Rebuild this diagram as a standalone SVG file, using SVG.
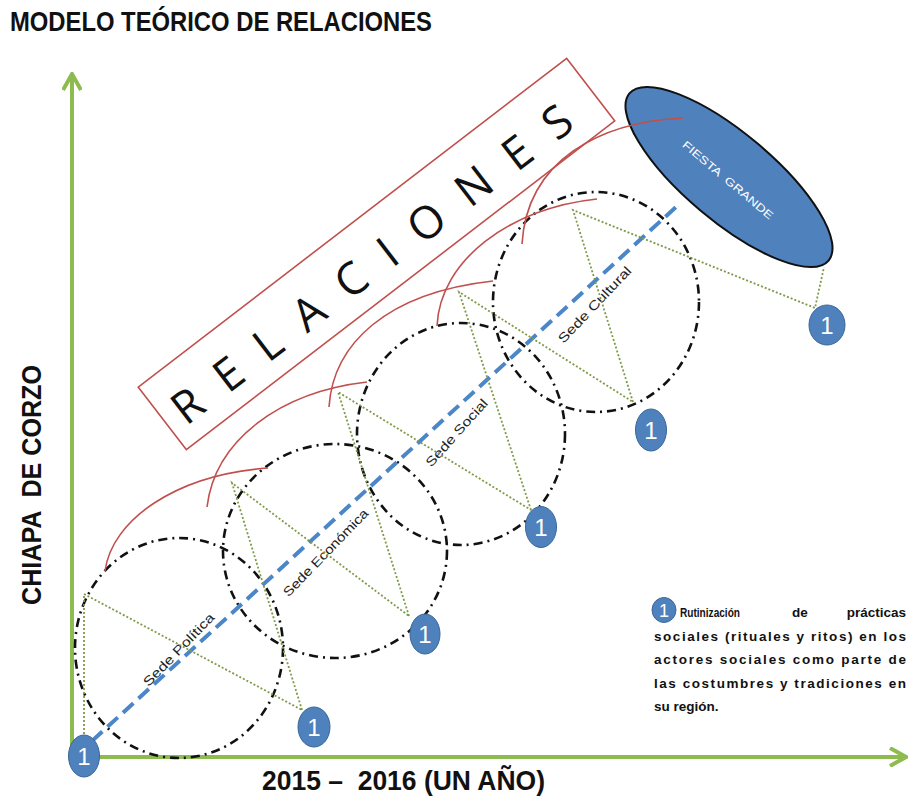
<svg xmlns="http://www.w3.org/2000/svg" width="910" height="797" viewBox="0 0 910 797">
<defs>
<style>
.axis{stroke:#8DBB4F;stroke-width:4;fill:none}
.sede{fill:none;stroke:#111;stroke-width:2.6;stroke-dasharray:9 5 2 5}
.tri{fill:none;stroke:#7F9A48;stroke-width:1.8;stroke-dasharray:2 2}
.arc{fill:none;stroke:#C0504D;stroke-width:1.6}
.blue{stroke:#4A86C8;stroke-width:4;stroke-dasharray:14 7;fill:none}
.badge{fill:#4F81BD;stroke:#3A6898;stroke-width:1}
.one{fill:#fff;font-family:"Liberation Sans",Arial,sans-serif;font-size:24px;text-anchor:middle}
.big{font-family:"Liberation Sans",Arial,sans-serif;font-weight:bold;font-size:28px;fill:#111}
.slabel{font-family:"Liberation Sans",Arial,sans-serif;font-size:13px;fill:#222;text-anchor:middle}
.leg{font-family:"Liberation Sans",Arial,sans-serif;font-weight:bold;font-size:13.5px;fill:#111}
</style>
<marker id="ah" viewBox="0 0 20 20" refX="18" refY="10" markerWidth="20" markerHeight="20" markerUnits="userSpaceOnUse" orient="auto">
<path d="M2,1 L18,10 L2,19" fill="none" stroke="#8DBB4F" stroke-width="4"/>
</marker>
</defs>
<rect width="910" height="797" fill="#fff"/>

<text class="big" x="10" y="31" textLength="422" lengthAdjust="spacingAndGlyphs">MODELO TEÓRICO DE RELACIONES</text>
<text class="big" xml:space="preserve" transform="translate(41,485) rotate(-90)" x="0" y="0" text-anchor="middle" textLength="240" lengthAdjust="spacingAndGlyphs">CHIAPA  DE CORZO</text>
<text class="big" xml:space="preserve" x="262" y="790" textLength="283" lengthAdjust="spacingAndGlyphs">2015 –  2016 (UN AÑO)</text>

<g id="axes">
<path class="axis" d="M72,757 L72,74" marker-end="url(#ah)"/>
<path class="axis" d="M72,757 L906,757" marker-end="url(#ah)"/>
</g>

<g id="relaciones">
<g transform="translate(376.5,254) rotate(-37.5)">
<rect x="-270" y="-39.5" width="540" height="79" fill="none" stroke="#C0504D" stroke-width="1.6"/>
<text x="-256" y="21" font-family="'Open Sans','Liberation Sans',sans-serif" font-size="45" fill="#111" textLength="492" lengthAdjust="spacing">RELACIONES</text>
</g>
</g>

<g id="sede-politica">
<ellipse class="sede" cx="179" cy="648" rx="104" ry="110"/>
<text class="slabel" transform="translate(179,650) rotate(-46)" y="4" textLength="96" lengthAdjust="spacingAndGlyphs">Sede Política</text>
</g>
<g id="sede-economica">
<ellipse class="sede" cx="335" cy="551" rx="112" ry="107"/>
<text class="slabel" transform="translate(326,553) rotate(-46)" y="4" textLength="116" lengthAdjust="spacingAndGlyphs">Sede Económica</text>
</g>
<g id="sede-social">
<ellipse class="sede" cx="461" cy="434" rx="104" ry="111"/>
<text class="slabel" transform="translate(457,433) rotate(-48)" y="4" textLength="86" lengthAdjust="spacingAndGlyphs">Sede Social</text>
</g>
<g id="sede-cultural">
<ellipse class="sede" cx="596" cy="302" rx="103" ry="110"/>
<text class="slabel" transform="translate(595,305) rotate(-46.5)" y="4" textLength="100" lengthAdjust="spacingAndGlyphs">Sede Cultural</text>
</g>

<g id="connectors">
<path class="blue" d="M92,741 L676,207"/>
<path class="tri" d="M84,738 L84,594 L302,710"/>
<path class="tri" d="M302,710 L232,483 L409,616"/>
<path class="tri" d="M409,616 L338,392 L531,510"/>
<path class="tri" d="M531,510 L459,292 L633,402"/>
<path class="tri" d="M633,402 L573,210 L815,308 L824,267"/>
</g>

<g id="fiesta-grande">
<ellipse cx="729" cy="177" rx="130" ry="44" transform="rotate(40 729 177)" fill="#4F81BD" stroke="#111" stroke-width="2"/>
<text xml:space="preserve" transform="translate(728,180) rotate(40)" x="0" y="4" text-anchor="middle" font-family="'Liberation Sans',Arial,sans-serif" font-size="11" fill="#fff" textLength="115" lengthAdjust="spacingAndGlyphs">FIESTA  GRANDE</text>
</g>

<g id="arcs">
<path class="arc" d="M105,571 C112,520 175,475 268,468"/>
<path class="arc" d="M207,507 C215,440 280,392 367,382"/>
<path class="arc" d="M329,407 C333,345 385,293 493,281"/>
<path class="arc" d="M437,326 C440,260 510,208 597,199"/>
<path class="arc" d="M522,244 C527,160 600,122 683,118"/>
</g>

<g id="badge-0"><ellipse class="badge" cx="84" cy="756" rx="15.5" ry="21"/><text class="one" x="84" y="765">1</text></g>
<g id="badge-1"><ellipse class="badge" cx="314" cy="727" rx="16" ry="20"/><text class="one" x="314" y="736">1</text></g>
<g id="badge-2"><ellipse class="badge" cx="425" cy="634" rx="15" ry="20"/><text class="one" x="425" y="643">1</text></g>
<g id="badge-3"><ellipse class="badge" cx="541" cy="527" rx="15.5" ry="20.5"/><text class="one" x="541" y="536">1</text></g>
<g id="badge-4"><ellipse class="badge" cx="651" cy="430" rx="15.5" ry="21"/><text class="one" x="651" y="439">1</text></g>
<g id="badge-5"><ellipse class="badge" cx="827" cy="325" rx="18" ry="20"/><text class="one" x="827" y="334">1</text></g>

<g id="legend">
<ellipse class="badge" cx="664" cy="610" rx="12" ry="12.5"/>
<text class="one" x="664" y="617" style="font-size:18px">1</text>
<text class="leg" x="680" y="617" textLength="60" lengthAdjust="spacingAndGlyphs">Rutinización</text>
<text class="leg" x="800" y="617" text-anchor="middle">de</text>
<text class="leg" x="906" y="617" text-anchor="end">prácticas</text>
<text class="leg" x="654" y="641" textLength="252" lengthAdjust="spacing">sociales (rituales y ritos) en los</text>
<text class="leg" x="654" y="664" textLength="252" lengthAdjust="spacing">actores sociales como parte de</text>
<text class="leg" x="654" y="688" textLength="252" lengthAdjust="spacing">las costumbres y tradiciones en</text>
<text class="leg" x="654" y="711">su región.</text>
</g>
</svg>
